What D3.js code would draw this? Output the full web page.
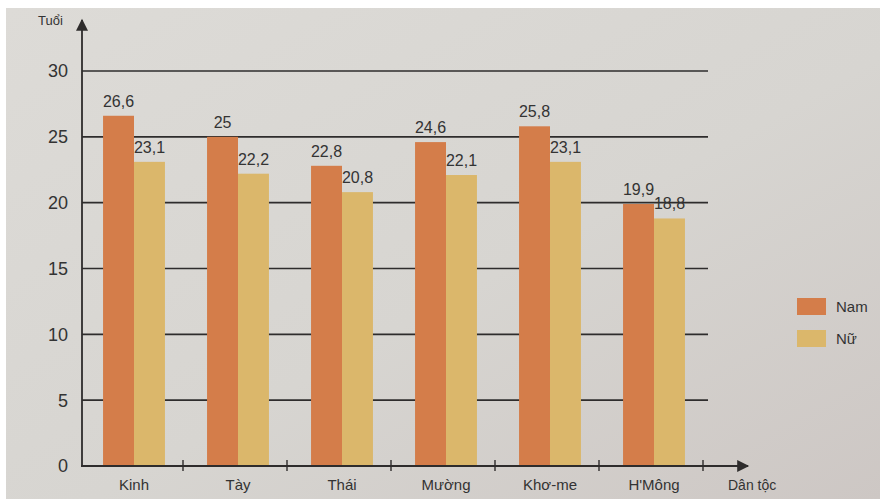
<!DOCTYPE html>
<html>
<head>
<meta charset="utf-8">
<script src="https://cdn.jsdelivr.net/npm/d3@7/dist/d3.min.js"></script>
<style>
  html, body { margin: 0; padding: 0; background: #ffffff; }
  svg { display: block; font-family: "Liberation Sans", Arial, sans-serif; }
</style>
</head>
<body>
<svg id="chart" width="880" height="499"></svg>
<script>
// Tuổi kết hôn trung bình lần đầu theo dân tộc
const categories = ["Kinh", "Tày", "Thái", "Mường", "Khơ-me", "H'Mông"];
const seriesNames = ["Nam", "Nữ"];
const namValues = [26.6, 25, 22.8, 24.6, 25.8, 19.9];
const nuValues = [23.1, 22.2, 20.8, 22.1, 23.1, 18.8];
const yTicks = [0, 5, 10, 15, 20, 25, 30];

const colors = { "Nam": "#d47d4a", "Nữ": "#dbb76b" };
const ink = "#2e2c2c";

const svg = d3.select("#chart");

// paper background
const defs = svg.append("defs");
const grad = defs.append("linearGradient").attr("id", "paper")
  .attr("x1", "0").attr("y1", "0").attr("x2", "1").attr("y2", "1");
grad.append("stop").attr("offset", "0%").attr("stop-color", "#dddbd7");
grad.append("stop").attr("offset", "55%").attr("stop-color", "#d7d5d1");
grad.append("stop").attr("offset", "100%").attr("stop-color", "#cdc7c4");
svg.append("rect").attr("x", 6).attr("y", 8).attr("width", 874).attr("height", 491)
  .attr("fill", "url(#paper)");

defs.append("marker").attr("id", "arrowBig")
  .attr("viewBox", "0 0 10 10").attr("refX", 9).attr("refY", 5)
  .attr("markerWidth", 14).attr("markerHeight", 12)
  .attr("markerUnits", "userSpaceOnUse").attr("orient", "auto")
  .append("path").attr("d", "M0,0 L10,5 L0,10 Z").attr("fill", ink);

const left = 82, bottom = 466;
const x = d3.scaleBand().domain(categories).range([left, 706]).paddingInner(0).paddingOuter(0);
const x1 = d3.scaleBand().domain(seriesNames).range([0, x.bandwidth()]).paddingInner(0).paddingOuter(0.68);
const y = d3.scaleLinear().domain([0, 30]).range([bottom, 71]);

// horizontal grid lines
svg.append("g").selectAll("line").data(yTicks.filter(d => d > 0)).join("line")
  .attr("x1", left).attr("x2", 708)
  .attr("y1", d => y(d)).attr("y2", d => y(d))
  .attr("stroke", ink).attr("stroke-width", 1.6);

// y tick labels
svg.append("g").selectAll("text").data(yTicks).join("text")
  .attr("x", 68).attr("y", d => y(d)).attr("dy", "0.36em")
  .attr("text-anchor", "end").attr("font-size", 18).attr("fill", "#333")
  .text(d => d);

// bars
const rows = categories.map((c, i) => ({ cat: c, vals: [
  { s: "Nam", v: namValues[i] }, { s: "Nữ", v: nuValues[i] }] }));
const groups = svg.append("g").selectAll("g").data(rows).join("g")
  .attr("transform", d => `translate(${x(d.cat)},0)`);
groups.selectAll("rect").data(d => d.vals).join("rect")
  .attr("x", d => x1(d.s)).attr("width", x1.bandwidth())
  .attr("y", d => y(d.v)).attr("height", d => y(0) - y(d.v))
  .attr("fill", d => colors[d.s]);
groups.selectAll("text").data(d => d.vals).join("text")
  .attr("x", d => x1(d.s) + x1.bandwidth() / 2)
  .attr("y", d => y(d.v) - 9)
  .attr("text-anchor", "middle").attr("font-size", 16).attr("fill", "#333")
  .text(d => String(d.v).replace(".", ","));

// axes
svg.append("line").attr("x1", left).attr("x2", left).attr("y1", bottom + 1).attr("y2", 20)
  .attr("stroke", ink).attr("stroke-width", 1.8).attr("marker-end", "url(#arrowBig)");
svg.append("line").attr("x1", left - 1).attr("x2", 748).attr("y1", bottom).attr("y2", bottom)
  .attr("stroke", ink).attr("stroke-width", 1.8).attr("marker-end", "url(#arrowBig)");

// category separator ticks on the x axis
svg.append("g").selectAll("line").data(categories).join("line")
  .attr("x1", d => x(d) + x.bandwidth() - 3).attr("x2", d => x(d) + x.bandwidth() - 3)
  .attr("y1", bottom - 6).attr("y2", bottom + 5)
  .attr("stroke", ink).attr("stroke-width", 1.4);

// category labels
svg.append("g").selectAll("text").data(categories).join("text")
  .attr("x", d => x(d) + x.bandwidth() / 2).attr("y", 490)
  .attr("text-anchor", "middle").attr("font-size", 15).attr("fill", "#333")
  .text(d => d);

// axis titles
svg.append("text").attr("x", 38).attr("y", 25).attr("font-size", 13).attr("fill", "#333").text("Tuổi");
svg.append("text").attr("x", 728).attr("y", 490).attr("font-size", 14).attr("fill", "#333").text("Dân tộc");

// legend
const legend = svg.append("g").selectAll("g").data(seriesNames).join("g")
  .attr("transform", (d, i) => `translate(797,${298 + i * 32})`);
legend.append("rect").attr("width", 29).attr("height", 17).attr("fill", d => colors[d]);
legend.append("text").attr("x", 39).attr("y", 9).attr("dy", "0.36em")
  .attr("font-size", 15).attr("fill", "#333").text(d => d);
</script>
</body>
</html>
